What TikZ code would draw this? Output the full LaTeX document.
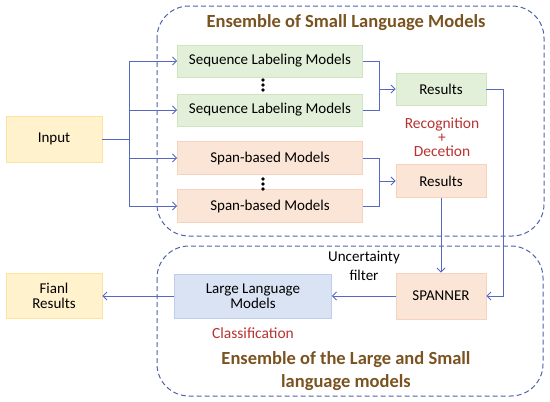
\documentclass[tikz,border=0pt]{standalone}
\usepackage{fontspec}
\setmainfont{Carlito}
\usetikzlibrary{arrows.meta}
\definecolor{lineblue}{HTML}{5468C4}
\definecolor{dashblue}{HTML}{5064AC}
\definecolor{titlebrown}{HTML}{7A5320}
\definecolor{notered}{HTML}{B83232}
\definecolor{greenfill}{HTML}{E2F0D9}
\definecolor{greenline}{HTML}{CFE5C2}
\definecolor{orangefill}{HTML}{FBE5D6}
\definecolor{orangeline}{HTML}{F6D3BC}
\definecolor{bluefill}{HTML}{DAE3F3}
\definecolor{blueline}{HTML}{BDCDEA}
\definecolor{yellowfill}{HTML}{FFF2CC}
\definecolor{yellowline}{HTML}{FBE3A0}

\begin{document}
\begin{tikzpicture}[x=1pt, y=-1pt,
    box/.style={draw, line width=0.8pt, inner sep=0pt, align=center,
      font=\fontsize{15}{17}\selectfont},
    greenbox/.style={box, fill=greenfill, draw=greenline},
    orangebox/.style={box, fill=orangefill, draw=orangeline},
    bluebox/.style={box, fill=bluefill, draw=blueline},
    yellowbox/.style={box, fill=yellowfill, draw=yellowline},
    link/.style={draw=lineblue, line width=1pt},
    tip/.style={-{Straight Barb[length=4pt, width=8pt, line width=0.9pt]}},
    ensemble/.style={draw=dashblue, line width=1pt, dash pattern=on 5pt off 3pt,
      rounded corners=32pt},
    title/.style={font=\bfseries\fontsize{18.5}{22}\selectfont, text=titlebrown, align=center},
    note/.style={font=\fontsize{15.5}{16}\selectfont, text=notered, align=center}]
  \useasboundingbox (0,0) rectangle (550,402);
  % two ensembles
  \draw[ensemble] (157,6) rectangle (544,236);
  \draw[ensemble] (157,246) rectangle (543,396);
  \node[title] (titleS) at (346,23) {Ensemble of Small Language Models};
  \node[title, font=\bfseries\fontsize{18.5}{23}\selectfont] (titleL) at (346,371)
    {Ensemble of the Large and Small\\language models};

  % boxes
  \node[yellowbox, minimum width=96pt, minimum height=46pt] (input) at (54,139) {Input};
  \node[greenbox, minimum width=185pt, minimum height=32pt] (seqA) at (270,61) {Sequence Labeling Models};
  \node[greenbox, minimum width=185pt, minimum height=32pt] (seqB) at (270,110) {Sequence Labeling Models};
  \node[orangebox, minimum width=185pt, minimum height=33pt] (spanA) at (270,158) {Span-based Models};
  \node[orangebox, minimum width=185pt, minimum height=33pt] (spanB) at (270,206) {Span-based Models};
  \node[greenbox, minimum width=90pt, minimum height=32pt] (resS) at (441,89) {Results};
  \node[orangebox, minimum width=90pt, minimum height=33pt] (resP) at (441,181) {Results};
  \node[orangebox, minimum width=90pt, minimum height=46pt] (spanner) at (441,296) {SPANNER};
  \node[bluebox, minimum width=157pt, minimum height=44pt] (llm) at (253,296) {Large Language\\[-2pt]Models};
  \node[yellowbox, minimum width=96pt, minimum height=45pt] (final) at (54,296) {Fianl\\[-2pt]Results};

  \foreach \y in {80,85,90,179,184,189}
    \fill (263,\y) circle (1.9pt);

  \node[note] (recog) at (442,137) {Recognition\\[-2pt]+\\[-2pt]Decetion};
  \node[note] (cls) at (253,333) {Classification};
  \node[font=\fontsize{15}{17}\selectfont, align=center] (filt) at (364,266) {Uncertainty\\[2pt]filter};

  % connectors
  \coordinate (fork) at (129,139);
  \coordinate (joinS) at (379,89);
  \coordinate (joinP) at (379,181);
  \draw[link] (input.east) -- (fork);
  \foreach \n in {seqA,seqB,spanA,spanB}
    \draw[link, tip] (fork) |- (\n.west);
  \draw[link] (seqA.east) -| (joinS) (seqB.east) -| (joinS);
  \draw[link, tip] (joinS) -- (resS.west);
  \draw[link] (spanA.east) -| (joinP) (spanB.east) -| (joinP);
  \draw[link, tip] (joinP) -- (resP.west);
  \draw[link, tip] (resS.east) -- ++(17,0) |- (spanner.east);
  \draw[link, tip] (resP.south) -- (spanner.north);
  \draw[link, tip] (spanner.west) -- (llm.east);
  \draw[link, tip] (llm.west) -- (final.east);
\end{tikzpicture}
\end{document}
